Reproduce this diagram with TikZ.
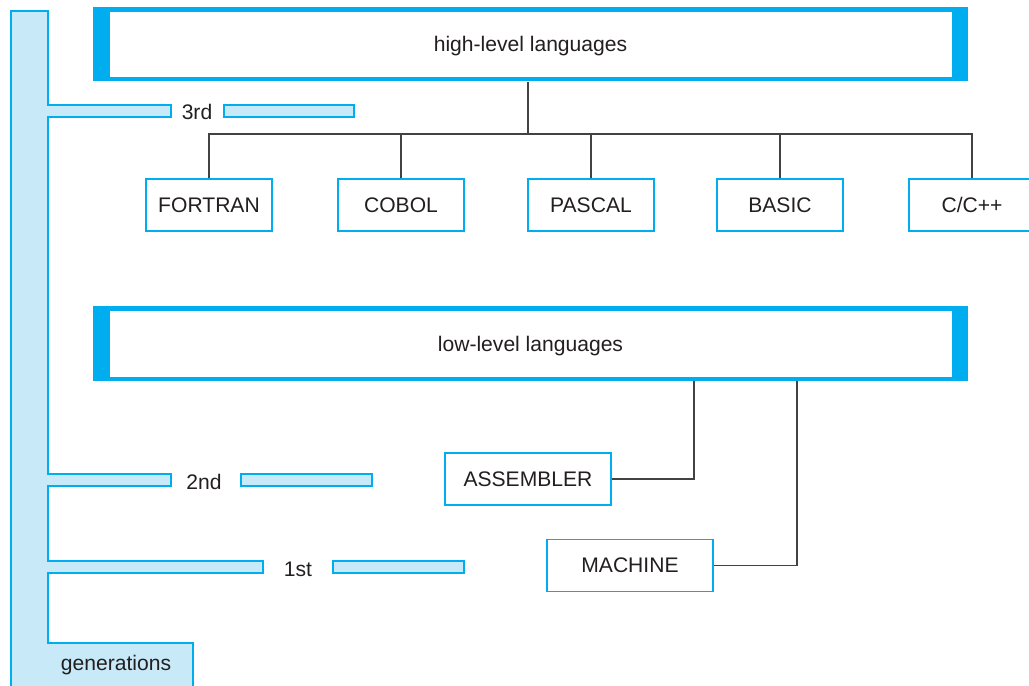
\documentclass[tikz,border=0pt]{standalone}
\usepackage{fontspec}
\setmainfont{Liberation Sans}
\usetikzlibrary{positioning}
\definecolor{genblue}{HTML}{00AEEF}
\definecolor{genpale}{HTML}{C8E9F8}
\definecolor{inkgray}{HTML}{231F20}
\tikzset{
	langbox/.style={draw=genblue, line width=0.6pt, fill=white, text=inkgray, minimum width=2.52cm, minimum height=1.04cm, inner sep=0pt, text height=0.85em, text depth=0pt},
	lowbox/.style={langbox, minimum width=3.32cm},
	bigbox/.style={fill=genblue, text=inkgray, minimum width=17.5cm, minimum height=1.5cm, inner sep=0pt, text height=0.9em, text depth=0pt,
		path picture={\fill[white] ([xshift=0.34cm,yshift=-0.1cm]path picture bounding box.north west) rectangle ([xshift=-0.32cm,yshift=0.08cm]path picture bounding box.south east);}},
	genlabel/.style={text=inkgray, inner sep=0pt},
	link/.style={draw=inkgray!85, line width=0.6pt}
}
\begin{document}
\begin{tikzpicture}[x=0.02cm, y=-0.02cm, font=\fontsize{12}{14}\selectfont]
		%%%%% START %%%%%
		\useasboundingbox (0, 0) rectangle (1029, 686);
		
		% generations bar
		\filldraw[fill=genpale, draw=genblue, line width=0.6pt] (11, 11) -- (48, 11) -- (48, 105) -- (171, 105) -- (171, 117) -- (48, 117)
			-- (48, 474) -- (171, 474) -- (171, 486) -- (48, 486)
			-- (48, 561) -- (263, 561) -- (263, 573) -- (48, 573)
			-- (48, 643) -- (193, 643) -- (193, 690) -- (11, 690) -- cycle;
		\filldraw[fill=genpale, draw=genblue, line width=0.6pt] (224, 105) rectangle (354, 117);
		\filldraw[fill=genpale, draw=genblue, line width=0.6pt] (241, 474) rectangle (372, 486);
		\filldraw[fill=genpale, draw=genblue, line width=0.6pt] (333, 561) rectangle (464, 573);
		
		\node[genlabel] (third) at (197, 112) {3rd};
		\node[genlabel] (second) at (204, 482) {2nd};
		\node[genlabel] (first) at (298, 569) {1st};
		\node[genlabel] (gens) at (116, 665) {generations};
		
		% high level
		\node[bigbox] (high) at (530.5, 44) {high-level languages};
		
		\node[langbox] (fortran) at (209, 205) {FORTRAN};
		\node[langbox] (cobol) at (401, 205) {COBOL};
		\node[langbox] (pascal) at (591, 205) {PASCAL};
		\node[langbox] (basic) at (780, 205) {BASIC};
		\node[langbox] (cpp) at (972, 205) {C/C++};
		
		\coordinate (hub) at (528, 134);
		\draw[link] (high.south -| hub) -- (hub);
		\draw[link] (fortran.north) -- (fortran.north |- hub) -- (cpp.north |- hub) -- (cpp.north);
		\foreach \lang in {cobol, pascal, basic}
			\draw[link] (\lang.north) -- (\lang.north |- hub);
		
		% low level
		\node[bigbox] (low) at (530.5, 343.5) {low-level languages};
		
		\node[lowbox] (asm) at (528, 479) {ASSEMBLER};
		\node[lowbox] (mach) at (630, 565.5) {MACHINE};
		
		\draw[link] (asm.east) -| (low.south -| 694, 0);
		\draw[link] (mach.east) -| (low.south -| 797, 0);
		
		%%%%% END %%%%%
\end{tikzpicture}
\end{document}
